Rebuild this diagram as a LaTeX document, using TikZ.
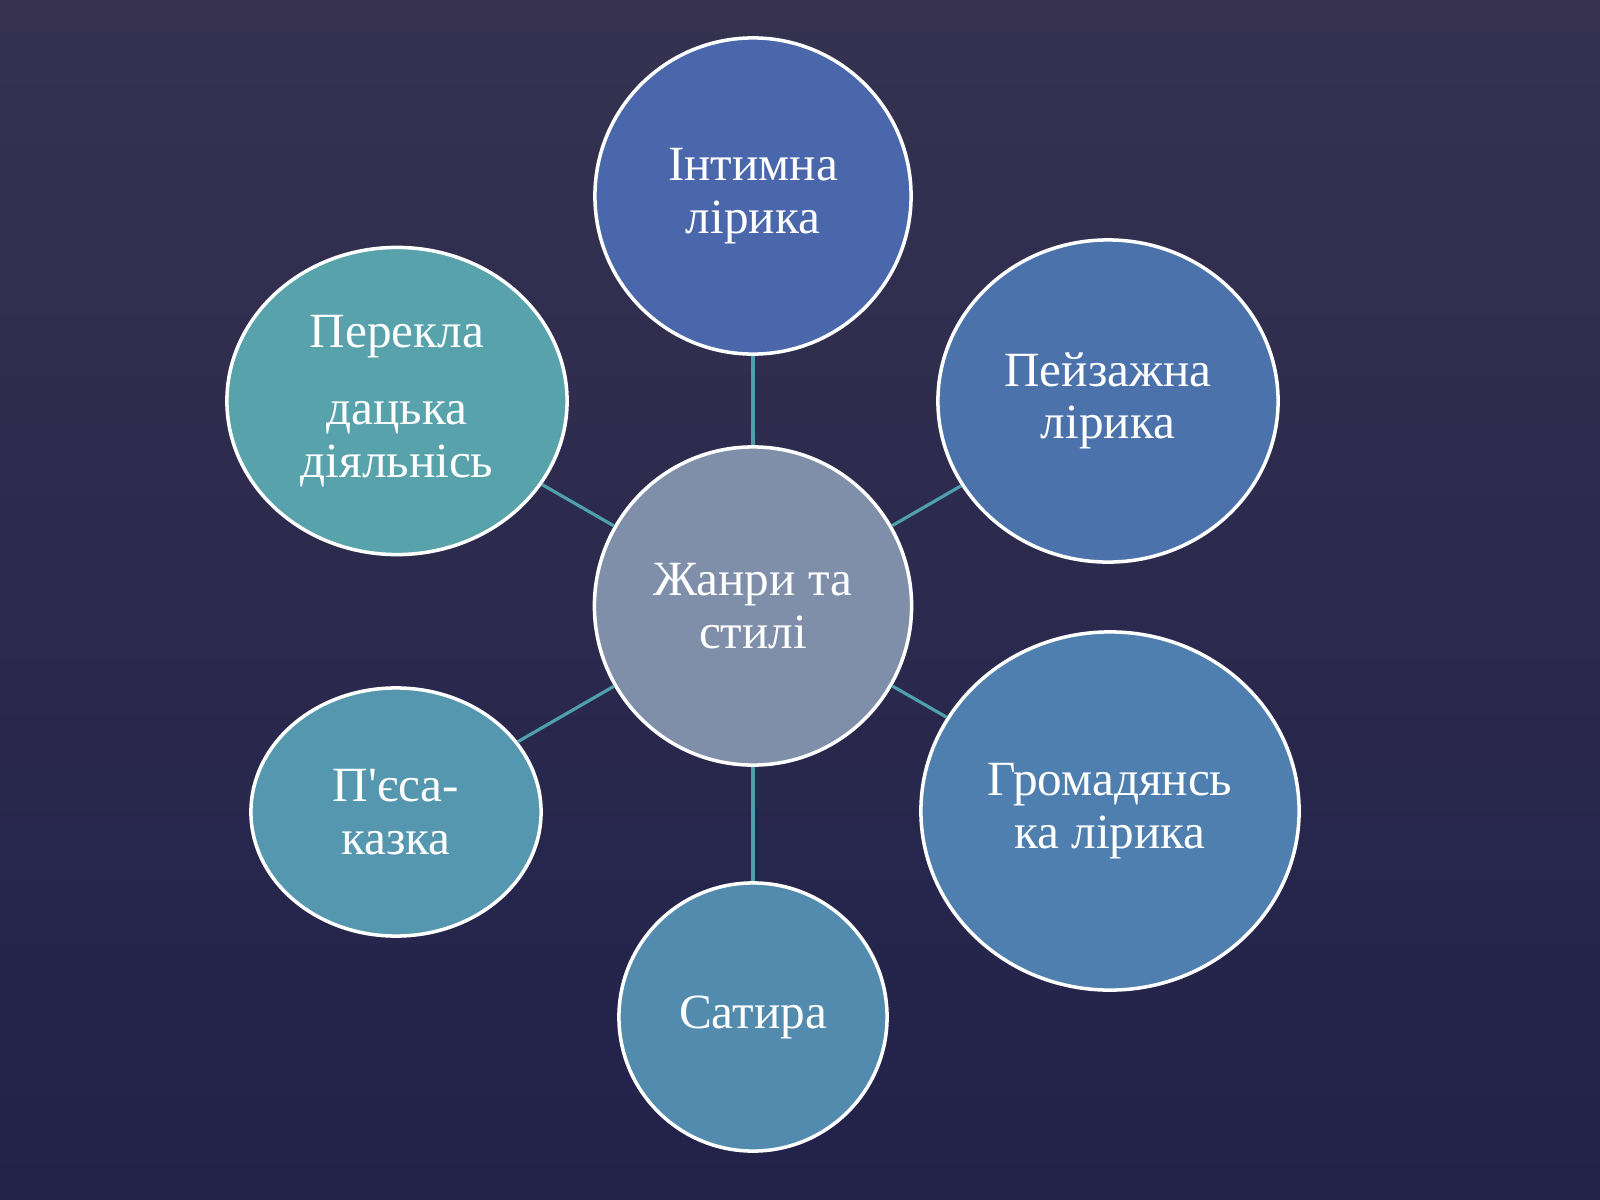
\documentclass[tikz,border=0pt]{standalone}
\usepackage{fontspec}
\setmainfont{Liberation Serif}[Ligatures=TeXOff]
\usetikzlibrary{shapes.geometric}

\definecolor{bgtop}{RGB}{54,50,80}
\definecolor{bgmid}{RGB}{60,56,88}
\definecolor{bgbot}{RGB}{33,33,74}
\definecolor{cIntym}{RGB}{74,103,171}
\definecolor{cPejz}{RGB}{75,114,170}
\definecolor{cHrom}{RGB}{79,127,174}
\definecolor{cSat}{RGB}{82,139,174}
\definecolor{cPjes}{RGB}{85,151,174}
\definecolor{cPerek}{RGB}{88,162,172}
\definecolor{cCentr}{RGB}{127,143,169}
\definecolor{cLink}{RGB}{79,160,173}

\begin{document}
\begin{tikzpicture}[x=0.01cm,y=-0.01cm]
%%%%%%%%%%%%%%%%%%%%%%%%%%%%%%%%%%%%%%%%%%%%%%%%%%%%%%%%
% STYLE
\tikzstyle{bulle}=[ellipse,draw=white,line width=1pt,text=white,align=center,inner sep=0pt,font=\fontsize{14}{15}\selectfont]
\tikzstyle{centre}=[bulle,fill=cCentr,minimum width=3.17cm,minimum height=3.18cm]

\tikzset{link/.style={draw=cLink,line width=0.9pt}}

%%%%%%%%%%%%%%%%%%%%%%%%%%%%%%%%%%%%%%%%%%%%%%%%%%%%%%%%
% FOND
\shade[top color=bgtop,middle color=bgmid,bottom color=bgbot] (0,0) rectangle (1600,1200);
\useasboundingbox (0,0) rectangle (1600,1200);

%%%%%%%%%%%%%%%%%%%%%%%%%%%%%%%%%%%%%%%%%%%%%%%%%%%%%%%%
% NODES
\node[centre] (C) at (753,606) {Жанри та\\стилі};

\node[bulle,fill=cIntym,minimum width=3.16cm,minimum height=3.16cm] (G1) at (753,196) {Інтимна\\лірика};
\node[bulle,fill=cPejz,minimum width=3.40cm,minimum height=3.22cm] (G2) at (1108,401) {Пейзажна\\лірика};
\node[bulle,fill=cHrom,minimum width=3.78cm,minimum height=3.58cm] (G3) at (1110,811) {Громадянсь\\ка лірика};
\node[bulle,fill=cSat,minimum width=2.68cm,minimum height=2.68cm] (G4) at (753,1017) {Сатира};
\node[bulle,fill=cPjes,minimum width=2.90cm,minimum height=2.48cm] (G5) at (396,812) {П'єса-\\казка};
\node[bulle,fill=cPerek,minimum width=3.40cm,minimum height=3.07cm] (G6) at (397,401) {Перекла\\[7pt]дацька\\діяльнісь};

%%%%%%%%%%%%%%%%%%%%%%%%%%%%%%%%%%%%%%%%%%%%%%%%%%%%%%%%
% LINKS
\foreach \g in {G1,G2,G3,G4,G5,G6}
  \draw[link] (C) -- (\g);

\end{tikzpicture}
\end{document}
